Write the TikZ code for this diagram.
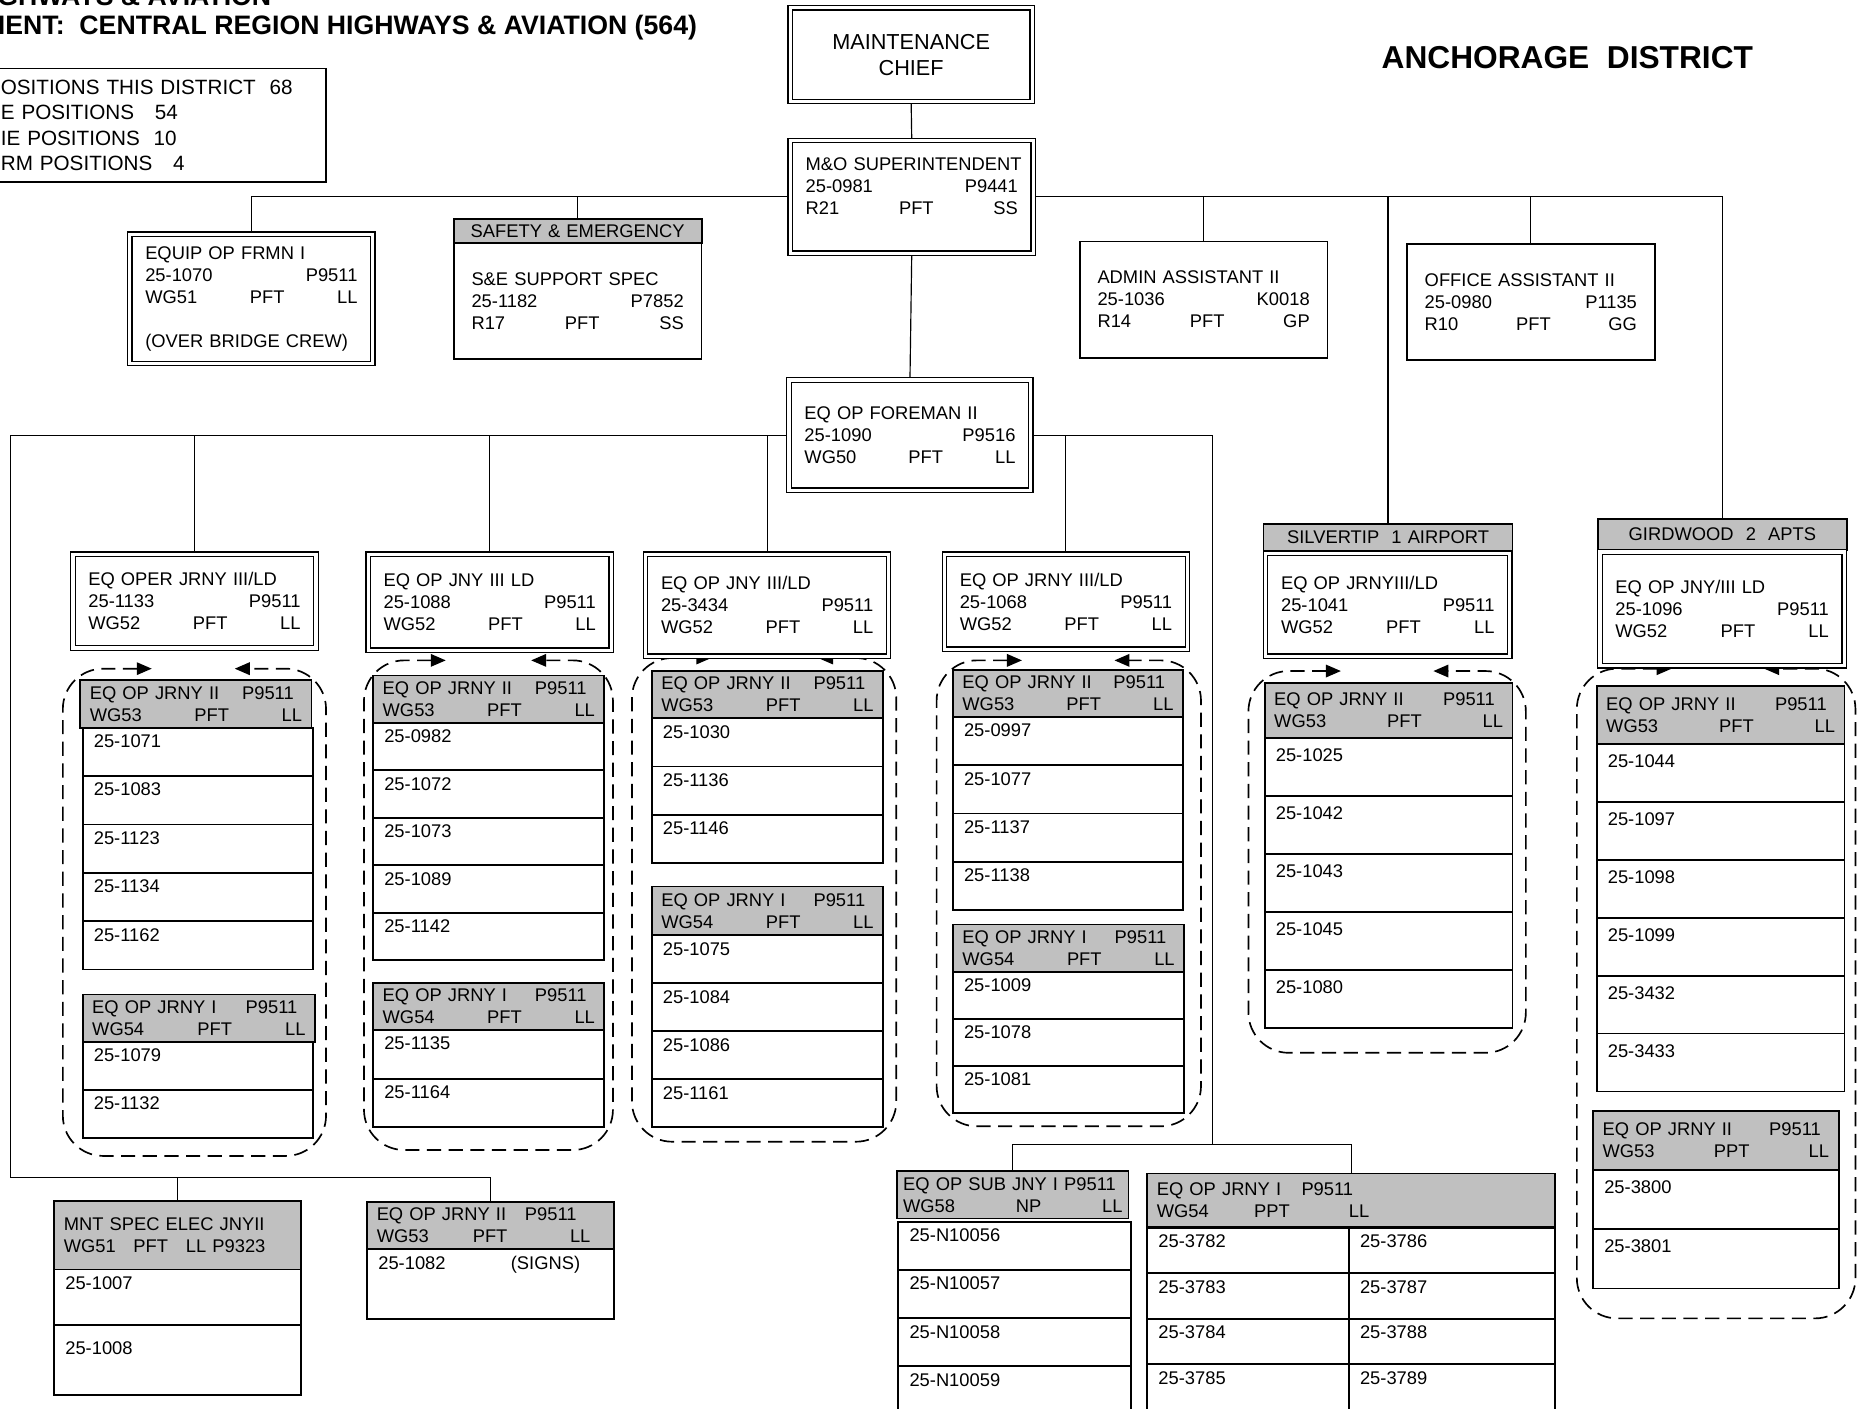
\documentclass[tikz,border=0pt]{standalone}
\usepackage{fontspec}
\setmainfont{Liberation Sans}
\usetikzlibrary{arrows.meta,backgrounds}
\definecolor{hdrgray}{RGB}{192,192,192}
\definecolor{ink}{RGB}{0,0,0}
\newdimen\px \px=0.025cm
\newcommand{\boxfont}{\fontsize{11}{13.2}\selectfont\hyphenpenalty=10000\exhyphenpenalty=10000}
\tikzset{
  frame/.style={draw=ink,double,double distance=1.9pt,line width=0.75pt,fill=white,inner sep=0pt,anchor=north west,align=left,font=\boxfont},
  plain/.style={draw=ink,line width=1pt,fill=white,inner sep=0pt,anchor=north west,align=left,font=\boxfont},
  hdr/.style={plain,fill=hdrgray,line width=1.1pt},
  cell/.style={draw=ink,line width=1.1pt,fill=white,inner sep=0pt,anchor=north west},
  cellt/.style={anchor=north west,inner xsep=7pt,inner ysep=4.6pt,font=\boxfont},
  crew/.style={ink,line width=1pt,dash pattern=on 8.5pt off 4.5pt,rounded corners=0.85cm,{Triangle[length=9pt,width=7.5pt]}-{Triangle[length=9pt,width=7.5pt]}},
  link/.style={ink,line width=0.7pt},
  ttl/.style={font=\bfseries\fontsize{16}{19}\selectfont,inner sep=0pt},
}
% double-ruled box: [opts]{name}{x}{y}{w}{h}{text}
\newcommand{\dbox}[7][]{%
  \pgfmathsetlengthmacro{\tw}{(#5-30)*\px}%
  \node[frame,minimum width={(#5-4)*\px},minimum height={(#6-4)*\px},text width=\tw,#1] (#2) at ({#3+2},{#4+2}) {#7};}
% single-ruled box
\newcommand{\plainbox}[7][]{%
  \pgfmathsetlengthmacro{\tw}{(#5-30)*\px}%
  \node[plain,minimum width={#5*\px},minimum height={#6*\px},text width=\tw,#1] (#2) at (#3,#4) {#7};}
% grey class header
\newcommand{\hdrbox}[7][]{%
  \pgfmathsetlengthmacro{\tw}{(#5-16)*\px}%
  \node[hdr,minimum width={#5*\px},minimum height={#6*\px},text width=\tw,#1] (#2) at (#3,#4) {#7};}
% stacked PCN cells under a header
\newcommand{\cells}[7][]{%
  \foreach \pid [count=\k] in {#7}{%
    \node[cell,minimum width={#5*\px},minimum height={#6*\px},label={[cellt,#1]north west:\pid}] (#2-\k) at (#3,{#4+(\k-1)*#6}) {};}}
\newcommand{\jr}[3]{#1\hfill P9511\kern7\px\\#2\hfill #3\hfill LL}

\begin{document}
\begin{tikzpicture}[x=0.025cm,y=-0.025cm]
\useasboundingbox (0,0) rectangle (1568,1188);
% ---- titles ----
\node[ttl,anchor=base east] (agency) at (229,5) {GHWAYS \& AVIATION};
\node[ttl,anchor=base west] (dept) at (-2,29) {IENT:\ \ CENTRAL REGION HIGHWAYS \& AVIATION (564)};
\node[ttl,font=\bfseries\fontsize{19}{22}\selectfont] (district) at (1322,49) {ANCHORAGE\ \ DISTRICT};
\plainbox[font=\fontsize{12.4}{15.1}\selectfont]{tally}{-15}{57}{289}{96}{OSITIONS THIS DISTRICT\ \ 68\\E POSITIONS\ \ \ 54\\IE POSITIONS\ \ 10\\RM POSITIONS\ \ \ 4}

% ---- top of the chart ----
\dbox[align=center,font=\fontsize{13}{15.6}\selectfont]{chief}{664}{4}{208}{83}{MAINTENANCE\\CHIEF}
\dbox{sup}{664}{116}{209}{99}{\mbox{M\&O SUPERINTENDENT}\\25-0981\hfill P9441\\R21\hfill PFT\hfill SS\\\mbox{}}
\dbox{eqfrmn}{107}{195}{209}{113}{EQUIP OP FRMN I\\25-1070\hfill P9511\\WG51\hfill PFT\hfill LL\\[13.2pt](OVER BRIDGE CREW)}
\hdrbox[align=center]{sehdr}{382}{184}{209}{20}{SAFETY \& EMERGENCY}
\plainbox{sebody}{382}{204}{209}{98}{S\&E SUPPORT SPEC\\25-1182\hfill P7852\\R17\hfill PFT\hfill SS}
\plainbox{admin}{910}{203}{209}{98}{ADMIN ASSISTANT II\\25-1036\hfill K0018\\R14\hfill PFT\hfill GP}
\plainbox{office}{1186}{205}{209}{98}{OFFICE ASSISTANT II\\25-0980\hfill P1135\\R10\hfill PFT\hfill GG}
\dbox{frmn}{663}{318}{208}{97}{EQ OP FOREMAN II\\25-1090\hfill P9516\\WG50\hfill PFT\hfill LL}

% ---- lead journeymen ----
\dbox{ld1}{59}{465}{209}{83}{EQ OPER JRNY III/LD\\25-1133\hfill P9511\\WG52\hfill PFT\hfill LL}
\dbox{ld2}{308}{465}{209}{85}{EQ OP JNY III LD\\25-1088\hfill P9511\\WG52\hfill PFT\hfill LL}
\dbox{ld3}{542}{465}{209}{90}{EQ OP JNY III/LD\\25-3434\hfill P9511\\WG52\hfill PFT\hfill LL}
\dbox{ld4}{794}{465}{209}{84}{EQ OP JRNY III/LD\\25-1068\hfill P9511\\WG52\hfill PFT\hfill LL}
\hdrbox[align=center]{silhdr}{1065}{441}{210}{23}{SILVERTIP\ \ 1 AIRPORT}
\dbox{ld5}{1065}{464}{210}{91}{EQ OP JRNYIII/LD\\25-1041\hfill P9511\\WG52\hfill PFT\hfill LL}
\hdrbox[align=center]{girhdr}{1347}{437}{210}{26}{GIRDWOOD\ \ 2\ \ APTS}
\dbox{ld6}{1347}{463}{210}{100}{EQ OP JNY/III LD\\25-1096\hfill P9511\\WG52\hfill PFT\hfill LL}

% ---- crews ----
\hdrbox{g1h}{67}{573}{195}{40}{\jr{EQ OP JRNY II}{WG53}{PFT}}
\cells{g1}{69}{613}{194}{40.8}{25-1071,25-1083,25-1123,25-1134,25-1162}
\hdrbox{g1i}{69}{838}{196}{40}{\jr{EQ OP JRNY I}{WG54}{PFT}}
\cells{g1b}{69}{878}{194}{40.5}{25-1079,25-1132}

\hdrbox{g2h}{314}{569}{195}{40}{\jr{EQ OP JRNY II}{WG53}{PFT}}
\cells{g2}{314}{609}{195}{40}{25-0982,25-1072,25-1073,25-1089,25-1142}
\hdrbox{g2i}{314}{828}{195}{40}{\jr{EQ OP JRNY I}{WG54}{PFT}}
\cells{g2b}{314}{868}{195}{41}{25-1135,25-1164}

\hdrbox{g3h}{549}{565}{195}{40}{\jr{EQ OP JRNY II}{WG53}{PFT}}
\cells{g3}{549}{605}{195}{40.7}{25-1030,25-1136,25-1146}
\hdrbox{g3i}{549}{747}{195}{41}{\jr{EQ OP JRNY I}{WG54}{PFT}}
\cells{g3b}{549}{788}{195}{40.5}{25-1075,25-1084,25-1086,25-1161}

\hdrbox{g4h}{803}{564}{194}{40}{\jr{EQ OP JRNY II}{WG53}{PFT}}
\cells{g4}{803}{604}{194}{40.7}{25-0997,25-1077,25-1137,25-1138}
\hdrbox{g4i}{803}{779}{195}{40}{\jr{EQ OP JRNY I}{WG54}{PFT}}
\cells{g4b}{803}{819}{195}{39.7}{25-1009,25-1078,25-1081}

\hdrbox{g5h}{1066}{575}{209}{47}{\jr{EQ OP JRNY II}{WG53}{PFT}}
\cells[inner ysep=6.8pt]{g5}{1066}{622}{209}{48.8}{25-1025,25-1042,25-1043,25-1045,25-1080}

\hdrbox{g6h}{1346}{578}{209}{49}{\jr{EQ OP JRNY II}{WG53}{PFT}}
\cells[inner ysep=6.8pt]{g6}{1346}{627}{209}{48.8}{25-1044,25-1097,25-1098,25-1099,25-3432,25-3433}
\hdrbox{g6i}{1343}{936}{207}{50}{\jr{EQ OP JRNY II}{WG53}{PPT}}
\cells[inner ysep=6.8pt]{g6b}{1343}{986}{207}{50}{25-3800,25-3801}

% ---- bottom left ----
\hdrbox{mnth}{45}{1012}{208}{58}{MNT SPEC ELEC JNYII\\WG51\hspace{15\px}PFT\hspace{15\px}LL P9323}
\node[cell,minimum width={208*\px},minimum height={47*\px},label={[cellt]north west:25-1007}] (mnt-1) at (45,1070) {};
\node[cell,minimum width={208*\px},minimum height={59*\px},label={[cellt,inner ysep=10pt]north west:25-1008}] (mnt-2) at (45,1117) {};
\hdrbox{sgnh}{309}{1013}{208}{40}{\makebox[125\px][l]{EQ OP JRNY II}P9511\\\makebox[81\px][l]{WG53}\makebox[82\px][l]{PFT}LL}
\node[cell,minimum width={208*\px},minimum height={59*\px},label={[cellt]north west:25-1082\hspace{55\px}(SIGNS)}] (sgn-1) at (309,1053) {};

% ---- bottom centre ----
\hdrbox[text width={185*\px}]{subh}{756}{987}{195}{40}{\mbox{EQ OP SUB JNY I P9511}\\WG58\hfill NP\hfill LL}
\cells{sub}{757}{1030}{196}{40.5}{25-N10056,25-N10057,25-N10058,25-N10059}
\hdrbox{pth}{967}{989}{344}{45}{\makebox[122\px][l]{EQ OP JRNY I}P9511\\\makebox[82\px][l]{WG54}\makebox[80\px][l]{PPT}LL}
\cells{ppa}{967}{1035}{170}{38.3}{25-3782,25-3783,25-3784,25-3785}
\cells{ppb}{1137}{1035}{174}{38.3}{25-3786,25-3787,25-3788,25-3789}

% ---- lines and crew outlines, behind the boxes ----
\begin{scope}[on background layer]
  \fill[white] (0,0) rectangle (1568,1188);
  \foreach \gl/\gt/\gr/\gb/\ta/\tb in {53/564/275/975/128/198, 307/557/517/970/376/448,
      533/555/756/963/600/690, 790/557/1013/950/862/940, 1053/566/1287/888/1131/1209,
      1330/564/1565/1112/1410/1488}
    \draw[crew] (\ta,\gt) -- (\gl,\gt) -- (\gl,\gb) -- (\gr,\gb) -- (\gr,\gt) -- (\tb,\gt);
  \coordinate (lowbus) at (9,993);
  \coordinate (rbus) at (1023,965);
  \draw[link] (chief.south) -- (sup.north);
  \draw[link] (sup.west) -| (eqfrmn.north);
  \draw[link] (sup.west) -| (sehdr.north);
  \draw[link] (sup.east) -| (admin.north);
  \draw[link] (sup.east) -| (silhdr.north);
  \draw[link] (sup.east) -| (office.north);
  \draw[link] (sup.east) -| (girhdr.north);
  \draw[link] (sup.south) -- (frmn.north);
  \draw[link] (frmn.west) -| (ld1.north);
  \draw[link] (frmn.west) -| (ld2.north);
  \draw[link] (frmn.west) -| (ld3.north);
  \draw[link] (frmn.east) -| (ld4.north);
  \draw[link] (frmn.west) -| (lowbus) -| (sgnh.north);
  \draw[link] (lowbus) -| (mnth.north);
  \draw[link] (frmn.east) -| (rbus) -| (pth.north);
  \draw[link] (rbus) -| (subh.north);
\end{scope}
\end{tikzpicture}
\end{document}
